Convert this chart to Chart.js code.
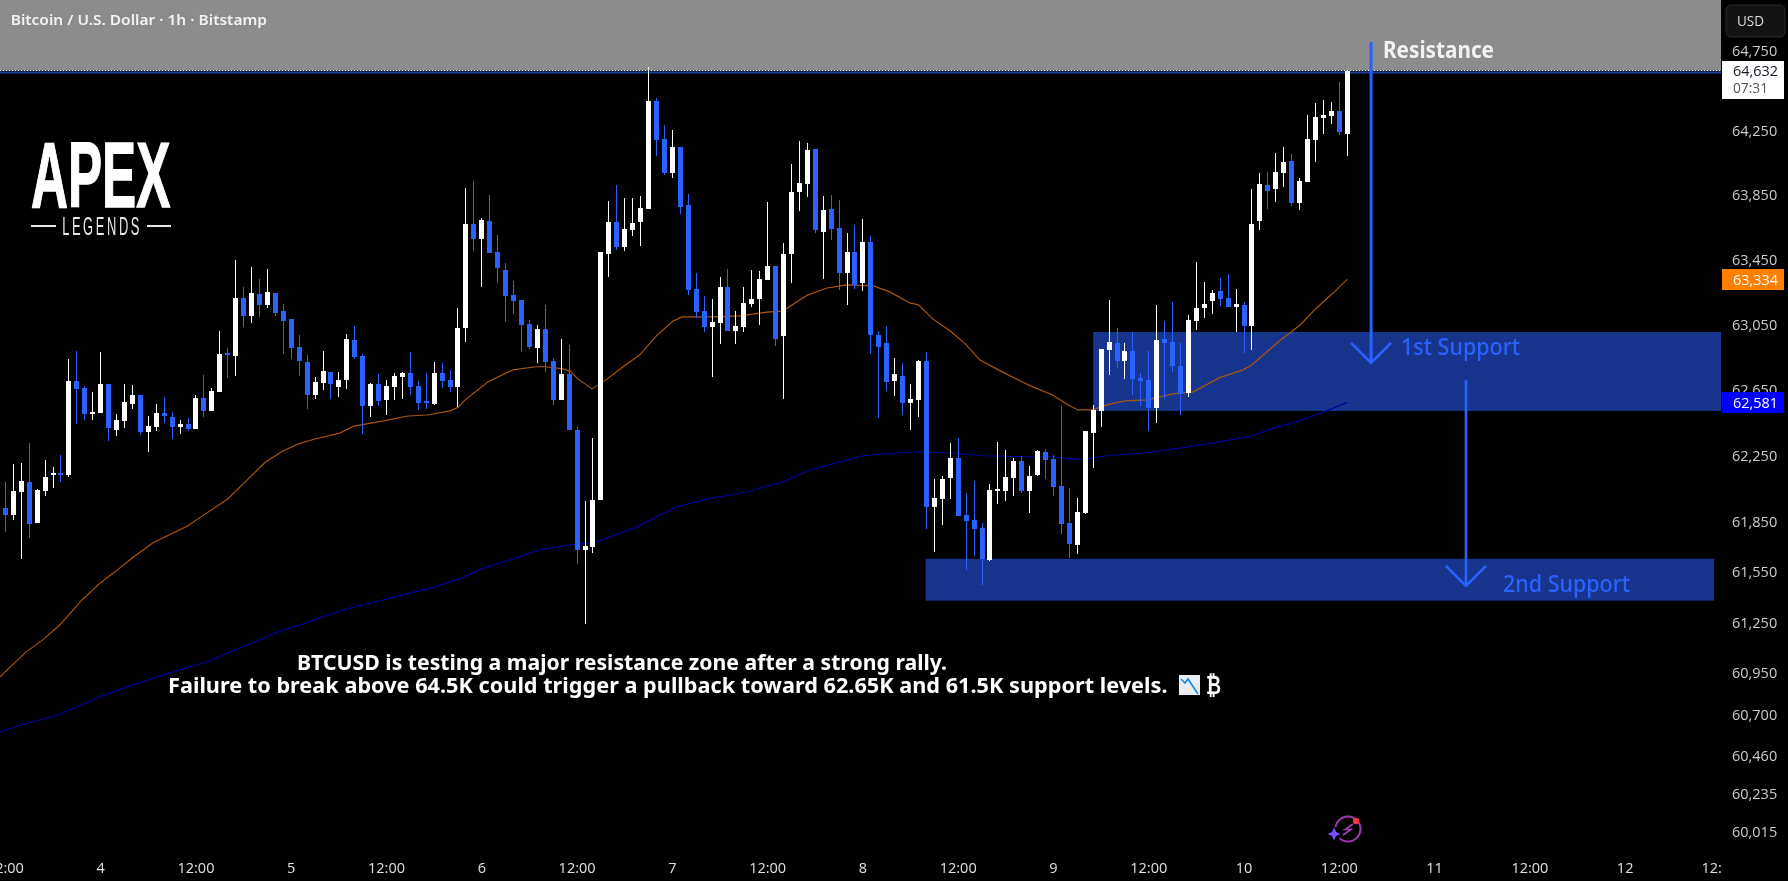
<!DOCTYPE html>
<html><head><meta charset="utf-8">
<style>html,body{margin:0;padding:0;background:#000;overflow:hidden}canvas{display:block}</style>
<script src="https://cdn.jsdelivr.net/npm/chart.js@4"></script>
</head><body><canvas id="c" width="1788" height="881"></canvas>
<script>
const opens=[61941,61899,62039,62098,61853,62044,62138,62145,62140,62713,
62668,62511,62516,62693,62415,62469,62571,62626,62403,62432,
62516,62492,62432,62450,62420,62608,62529,62646,62877,62865,
63220,63109,63245,63177,63252,63139,63089,62920,62828,62626,
62698,62768,62675,62718,62962,62865,62558,62693,62596,62675,
62735,62760,62680,62583,62571,62760,62718,62675,63034,63676,
63580,63696,63504,63393,63237,63207,63059,62912,63029,62835,
62596,62755,62415,61688,61707,61989,63491,63688,63534,63638,
63688,63771,64443,64204,63992,64154,63795,63274,63140,63042,
63065,63288,63018,63042,63182,63213,63331,63415,62985,63491,
63875,63925,64141,63626,63768,63652,63373,63503,63312,63565,
62992,62943,62712,62742,62576,62595,62833,61948,61994,62121,
62244,61900,61870,61822,61631,62042,62042,62121,62225,62042,
62139,62278,62237,62072,61851,61718,61911,62394,62527,62901,
62943,62833,62894,62731,62717,62546,62969,62950,62803,62637,
63079,63159,63201,63262,63220,63163,63175,63049,63695,63918,
63894,63992,64068,63806,63937,64199,64335,64347,64379,64235];
const highs=[62096,62207,62215,62336,62058,62232,62187,62259,62845,62895,
62680,62646,62890,62693,62511,62693,62688,62626,62499,62571,
62613,62524,62474,62487,62626,62748,62668,63017,62912,63454,
63287,63411,63335,63398,63252,63182,63089,62992,62870,62735,
62895,62768,62768,62997,63047,62877,62700,62755,62718,62760,
62768,62890,62710,62760,62828,62823,62778,63157,63898,63944,
63711,63855,63605,63434,63325,63207,63084,63054,63177,62852,
62967,62932,62432,61983,62364,63503,63818,63918,63837,63837,
63849,64655,64460,64292,64261,64154,63863,63373,63232,63213,
63349,63399,63140,63288,63392,63385,63813,63415,63558,64049,
64192,64180,64141,63849,63856,63825,63622,63671,63707,63603,
63018,63049,62852,62821,62693,62840,62889,62116,62135,62334,
62364,62031,62105,61851,62086,62339,62292,62244,62255,62195,
62292,62297,62260,62558,62061,62001,62406,62565,62905,63208,
63035,62943,63011,62761,62894,63175,63079,63194,62943,63114,
63441,63319,63269,63342,63366,63274,63194,63894,63992,63999,
64118,64154,64111,63961,64355,64429,64448,64436,64561,64638];
const lows=[61799,61870,61634,61762,61853,62014,62061,62101,62130,62450,
62474,62474,62516,62348,62378,62425,62541,62385,62282,62408,
62457,62358,62390,62408,62420,62492,62529,62646,62730,62743,
63042,63067,63102,63157,63109,62877,62845,62743,62541,62601,
62656,62601,62613,62663,62845,62390,62492,62558,62504,62596,
62601,62626,62536,62541,62566,62668,62646,62551,62949,63507,
63287,63497,63310,63072,63122,62890,62907,62823,62768,62566,
62596,62415,61605,61248,61668,61989,63349,63515,63510,63603,
63541,63766,64099,63980,63961,63738,63239,63098,63012,62735,
62938,63018,62938,63012,63163,63053,63331,62924,62602,63312,
63757,63844,63622,63335,63577,63269,63175,63274,63262,62875,
62485,62651,62621,62504,62413,62492,61815,61677,61840,61994,
61893,61569,61654,61480,61622,61964,61983,62012,62031,61911,
62135,62116,62012,61785,61640,61665,61904,62181,62431,62749,
62791,62723,62625,62560,62406,62455,62602,62766,62504,62614,
63023,63096,63121,63171,63163,63011,62882,62901,63638,63768,
63814,63906,63787,63764,63937,64061,64235,64297,64230,64099];
const closes=[61899,62044,62105,61845,62051,62128,62148,62140,62713,62663,
62511,62521,62693,62425,62474,62583,62626,62403,62437,62516,
62499,62432,62450,62422,62608,62529,62651,62877,62872,63220,
63109,63250,63177,63257,63127,63079,62912,62835,62626,62705,
62773,62693,62718,62967,62857,62558,62693,62591,62680,62743,
62760,62675,62578,62578,62760,62713,62675,63034,63676,63580,
63701,63497,63403,63232,63202,63054,62920,63029,62828,62596,
62755,62415,61691,61714,61989,63503,63688,63534,63645,63683,
63776,64443,64199,63992,64154,63783,63269,63133,63042,63072,
63288,63018,63049,63189,63213,63335,63415,62970,63491,63875,
63930,64137,63639,63764,63645,63373,63503,63300,63565,62992,
62919,62703,62754,62576,62602,62833,61948,62001,62116,62244,
61893,61863,61815,61636,62049,62049,62128,62225,62042,62135,
62285,62230,62068,61845,61725,61918,62406,62534,62905,62950,
62833,62894,62723,62712,62546,62962,62943,62803,62632,63084,
63159,63182,63250,63213,63163,63182,63049,63676,63925,63880,
63999,64061,63806,63944,64204,64343,64355,64379,64249,64632];

const orangeX=[-0.68,2.47,4.7,6.75,9.65,11.8,13.8,16,18.6,23,25,28,30.2,32.8,35,37,39.1,42.1,43.9,47.6,50.7,53.1,56,57.1,57.9,60.8,63.9,66.8,68,70.2,71.1,72.1,73.9,75.8,77.8,79.9,82.1,84.1,85.2,89.1,92.5,95.9,97.9,101,103.5,106,109.3,111.4,113.9,115,116.8,119,120.9,122.7,125.3,128,129.4,131.9,133.8,135.1,136.9,138.7,141,143.8,147,149.6,153,155.9,157,160.6,163.1,165,167.1,169];
const orangeY=[60933,61075,61152,61236,61390,61486,61558,61642,61732,61834,61900,61996,62099,62220,62287,62330,62360,62394,62437,62468,62498,62504,62529,62553,62596,62706,62779,62798,62798,62785,62773,62724,62663,62724,62798,62871,62993,63078,63103,63103,63109,63133,63139,63237,63281,63300,63294,63257,63189,63177,63091,63017,62938,62840,62773,62706,62675,62626,62566,62535,62535,62566,62590,62596,62633,62645,62733,62779,62810,62962,63055,63152,63245,63334];
const navyX=[-0.68,2,6.6,11.9,15.4,20.7,25.4,32,34.7,37.9,40.3,43.4,47,50.5,53.7,56.9,60,63.9,67.3,71.1,74,76.5,79.5,82.4,84.9,89.1,93.4,95.9,97.9,101.3,104.2,108,111,114.8,118.6,123,128.7,131.9,134.3,136,138.7,143.8,148.3,153,156.8,159.6,163,166.4,169];
const navyY=[60607,60648,60707,60814,60873,60956,61022,61152,61206,61253,61295,61342,61384,61426,61462,61510,61576,61636,61690,61720,61732,61774,61828,61900,61954,62002,62038,62075,62099,62169,62208,62257,62269,62281,62275,62257,62251,62251,62236,62236,62257,62275,62306,62343,62374,62423,62468,62529,62581];

const priceTicks=[64750,64250,63850,63450,63050,62650,62250,61850,61550,61250,60950,60700,60460,60235,60015];
const timeTicks=[0,12,24,36,48,60,72,84,96,108,120,132,144,156,168,180,192,204,214.9];
const timeLabels=["12:00","4","12:00","5","12:00","6","12:00","7","12:00","8","12:00","9","12:00","10","12:00","11","12:00","12","12:"];
const lastPrice=64632, emaFast=63334, emaSlow=62581;
const zoneFirst=[137,216.07,63011,62529];
const zoneSecond=[115.9,215.2,61636,61386];
const arrowOne=[172,64813,62822];
const arrowTwo=[183.95,62718,61474];

const BLUE='#2962ff', WHITE='#ffffff';
const tone=i=>closes[i]>=opens[i]?WHITE:BLUE;
const idx=opens.map((_,i)=>i);

function fit(ctx,text,font,x0,x1,cy,color){
  ctx.save();ctx.font=font;ctx.fillStyle=color;ctx.textAlign='left';ctx.textBaseline='middle';
  const w=ctx.measureText(text).width;ctx.translate(x0,cy);ctx.scale((x1-x0)/w,1);ctx.fillText(text,0,0);ctx.restore();
}
function boxText(ctx,text,font,x0,x1,top,bottom,color,stroke,spacing){
  ctx.save();ctx.font=font;ctx.fillStyle=color;ctx.strokeStyle=color;ctx.lineJoin='miter';ctx.textAlign='left';ctx.textBaseline='alphabetic';
  if(spacing)ctx.letterSpacing=spacing;
  const m=ctx.measureText(text);
  const w=m.actualBoundingBoxRight+m.actualBoundingBoxLeft,h=m.actualBoundingBoxAscent+m.actualBoundingBoxDescent;
  ctx.translate(x0,top);ctx.scale((x1-x0)/w,(bottom-top)/h);
  ctx.fillText(text,m.actualBoundingBoxLeft,m.actualBoundingBoxAscent);
  if(stroke){ctx.lineWidth=stroke;ctx.strokeText(text,m.actualBoundingBoxLeft,m.actualBoundingBoxAscent);}
  ctx.restore();
}
function arrow(ctx,X,Y,a,lw){
  const x=X.getPixelForValue(a[0]),y0=Y.getPixelForValue(a[1]),y1=Y.getPixelForValue(a[2]);
  ctx.save();ctx.strokeStyle=BLUE;ctx.lineWidth=lw;
  ctx.beginPath();ctx.moveTo(x,y0);ctx.lineTo(x,y1-1);ctx.stroke();
  ctx.lineWidth=2.6;ctx.beginPath();ctx.moveTo(x-20,y1-20);ctx.lineTo(x,y1);ctx.lineTo(x+20,y1-20);ctx.stroke();ctx.restore();
}
function zone(ctx,X,Y,z){
  const l=X.getPixelForValue(z[0]),r=X.getPixelForValue(z[1]),t=Y.getPixelForValue(z[2]),b=Y.getPixelForValue(z[3]);
  ctx.fillStyle='#17358c';ctx.fillRect(l,t,r-l,b-t);
}
const painter={id:'painter',
 afterDatasetsUpdate(chart){
  chart.data.datasets.forEach((d,k)=>{ if(d.type==='line')return;
   chart.getDatasetMeta(k).data.forEach(el=>{
     el.x=Math.round(el.x-0.5)+0.5;
     el.y=Math.round(el.y);el.base=Math.round(el.base);
     if(el.height!==undefined)el.height=el.base-el.y;
   });});
 },
 beforeDatasetsDraw(chart){
  const {ctx,chartArea:a,scales:{x:X,y:Y}}=chart;
  const py=Y.getPixelForValue(lastPrice);
  ctx.fillStyle='#8c8c8c';ctx.fillRect(a.left,0,a.right-a.left,py);
  ctx.fillStyle='#1b3f9a';ctx.fillRect(a.left,Math.round(py)+0.5,a.right-a.left,2);
  ctx.save();ctx.strokeStyle='#ffffff';ctx.setLineDash([1,2]);ctx.lineWidth=1;
  ctx.beginPath();ctx.moveTo(a.left,Math.round(py)-0.5);ctx.lineTo(a.right,Math.round(py)-0.5);ctx.stroke();ctx.restore();
  zone(ctx,X,Y,zoneFirst);zone(ctx,X,Y,zoneSecond);
 },
 afterDatasetsDraw(chart){
  const {ctx,scales:{x:X,y:Y}}=chart;
  arrow(ctx,X,Y,arrowOne,3);arrow(ctx,X,Y,arrowTwo,2.6);
  const fs='"Noto Sans","Open Sans",sans-serif';
  fit(ctx,'Bitcoin / U.S. Dollar · 1h · Bitstamp','600 15px '+fs,10.7,267,21,'#f2f2f2');
  fit(ctx,'Resistance','700 23px '+fs,1383,1494,51.5,'#f2f2f2');
  fit(ctx,'1st Support','500 24px '+fs,1401,1520,348,BLUE);
  fit(ctx,'2nd Support','500 24px '+fs,1503,1630,585,BLUE);
  fit(ctx,'BTCUSD is testing a major resistance zone after a strong rally.','700 22px '+fs,297,947,663.5,'#ffffff');
  fit(ctx,'Failure to break above 64.5K could trigger a pullback toward 62.65K and 61.5K support levels.','700 22px '+fs,168,1167.5,686.5,'#ffffff');
  // chart-falling glyph
  ctx.fillStyle='#e8eef2';ctx.fillRect(1179,675,21,20);
  ctx.strokeStyle='#1e88e5';ctx.lineWidth=1.6;ctx.beginPath();ctx.moveTo(1181,679);ctx.lineTo(1185,683);ctx.lineTo(1188,679);ctx.lineTo(1198,694);ctx.stroke();
  fit(ctx,'₿','700 25px "DejaVu Sans",sans-serif',1206,1221,687,'#ffffff');
  // logo
  boxText(ctx,'APEX','700 100px "Liberation Sans Narrow","Liberation Sans",sans-serif',32,170,142,208,'#ffffff',1.5);
  boxText(ctx,'LEGENDS','400 30px "Liberation Sans Narrow","Liberation Sans",sans-serif',63,139,217.5,235,'#e8e8e8',0,'6px');
  ctx.fillStyle='#e8e8e8';ctx.fillRect(31,225,25,2);ctx.fillRect(147,225,24,2);
 },
 afterDraw(chart){
  const {ctx,scales:{y:Y}}=chart;
  const font='500 15px "Open Sans",sans-serif';
  const badge=(value,h,bg,fg,txt)=>{
    const cy=Y.getPixelForValue(value);
    ctx.fillStyle=bg;ctx.fillRect(1722,Math.round(cy-h/2),62,h);
    fit(ctx,txt,font,1733,1778,cy+1,fg);
  };
  // countdown label
  const lp=Y.getPixelForValue(lastPrice);
  ctx.fillStyle='#ffffff';ctx.fillRect(1722,61,62,38);
  fit(ctx,'64,632',font,1733,1778,lp+1,'#131722');
  fit(ctx,'07:31',font,1733,1768,89,'#555555');
  badge(emaFast,21,'#ff7f00','#ffffff','63,334');
  badge(emaSlow,21,'#0000ff','#ffffff','62,581');
  // USD button
  ctx.fillStyle='#131313';ctx.strokeStyle='#2a2a2a';ctx.lineWidth=1;
  ctx.beginPath();ctx.roundRect(1726,5,59,32,5);ctx.fill();ctx.stroke();
  fit(ctx,'USD',font,1737,1764,21.5,'#dddddd');
  // assistant icon
  ctx.strokeStyle='#a03ab0';ctx.lineWidth=2;ctx.beginPath();ctx.arc(1348,829,12.5,0,Math.PI*2);ctx.stroke();
  ctx.fillStyle='#000';ctx.beginPath();ctx.arc(1334,834,7,0,Math.PI*2);ctx.fill();
  ctx.fillStyle='#7c4dff';ctx.beginPath();
  ctx.moveTo(1334,827.5);ctx.lineTo(1336,832);ctx.lineTo(1340.5,834);ctx.lineTo(1336,836);ctx.lineTo(1334,840.5);ctx.lineTo(1332,836);ctx.lineTo(1327.5,834);ctx.lineTo(1332,832);ctx.closePath();ctx.fill();
  ctx.strokeStyle='#a03ab0';ctx.lineWidth=1.6;ctx.beginPath();ctx.moveTo(1353,824);ctx.lineTo(1345,829.5);ctx.lineTo(1351,829.5);ctx.lineTo(1343,835);ctx.stroke();
  ctx.fillStyle='#f23645';ctx.beginPath();ctx.arc(1356,821,3.2,0,Math.PI*2);ctx.fill();
 }
};
new Chart(document.getElementById('c'),{
 type:'bar',
 plugins:[painter],
 data:{datasets:[
  {type:'line',data:orangeX.map((x,i)=>({x,y:orangeY[i]})),borderColor:'#a8550f',borderWidth:1.2,pointRadius:0,tension:0,order:4},
  {type:'line',data:navyX.map((x,i)=>({x,y:navyY[i]})),borderColor:'#00009c',borderWidth:1.2,pointRadius:0,tension:0,order:3},
  {type:'bar',grouped:false,data:idx.map(i=>({x:i,y:[lows[i],highs[i]]})),barThickness:1,inflateAmount:0,borderWidth:0,backgroundColor:idx.map(tone),order:2},
  {type:'bar',grouped:false,data:idx.map(i=>({x:i,y:[opens[i],closes[i]]})),barThickness:5,minBarLength:2,inflateAmount:0,borderWidth:0,backgroundColor:idx.map(tone),order:1}
 ]},
 options:{
  responsive:false,devicePixelRatio:1,animation:false,
  layout:{padding:0},
  plugins:{legend:{display:false},tooltip:{enabled:false},title:{display:false}},
  scales:{
   x:{type:'linear',offset:false,bounds:'data',min:-0.68,max:216.07,grid:{display:false},border:{display:false},
    afterBuildTicks(s){s.ticks=timeTicks.map(value=>({value}));},
    afterFit(s){s.height=33;s.paddingLeft=0;s.paddingRight=0;},
    ticks:{autoSkip:false,maxRotation:0,minRotation:0,padding:4,color:'#e0e0e0',font:{family:'"Open Sans",sans-serif',size:14.5,weight:'500'},
     callback(v,i){return timeLabels[i];}}},
   y:{type:'logarithmic',position:'right',bounds:'data',min:59927,max:65078,grid:{display:false},border:{display:false},
    afterBuildTicks(s){s.ticks=priceTicks.map(value=>({value}));},
    afterFit(s){s.width=67;s.paddingTop=0;s.paddingBottom=0;},
    ticks:{autoSkip:false,padding:3,crossAlign:'near',color:'#cccccc',font:{family:'"Open Sans",sans-serif',size:14.5,weight:'500'},
     callback(v){return v.toLocaleString('en-US');}}}
  }
 }
});
</script></body></html>
